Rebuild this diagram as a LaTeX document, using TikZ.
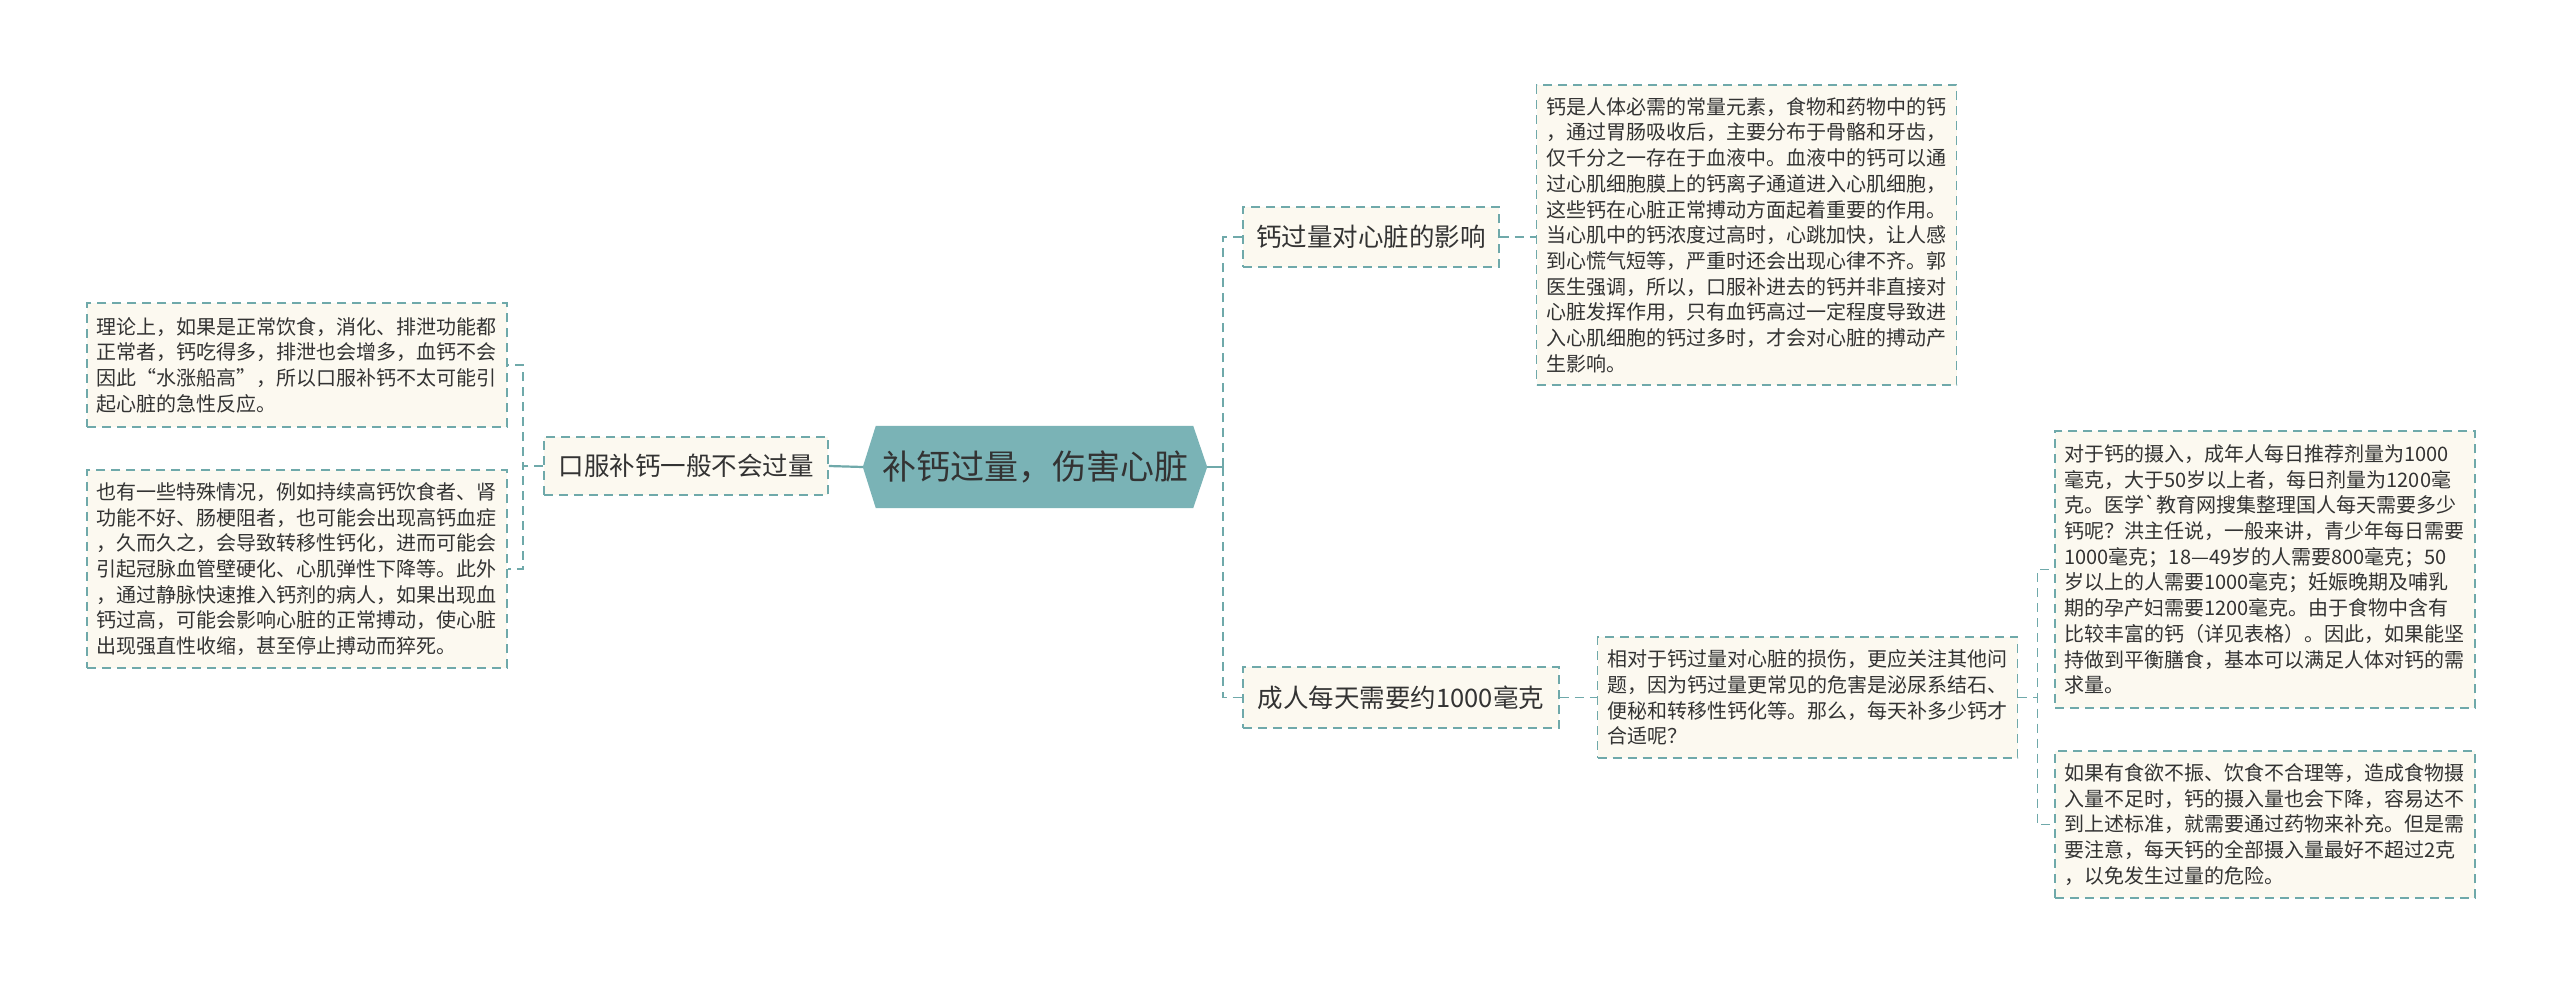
\documentclass[tikz,border=0pt]{standalone}
\usepackage{fontspec}
\setmainfont{Noto Sans CJK SC}
\usetikzlibrary{calc,backgrounds}
\definecolor{linec}{HTML}{6FA9AA}
\definecolor{hexfill}{HTML}{7AB3B6}
\definecolor{leafbg}{HTML}{FCF9F0}
\definecolor{txt}{HTML}{333333}
\begin{document}
\begin{tikzpicture}[x=1pt,y=-1pt,
  box/.style={draw=linec, fill=leafbg, line width=1.6pt, dash pattern=on 9pt off 6pt, text=txt, inner sep=0pt, anchor=center},
  leaf/.style={box, font=\fontsize{20}{25.7}\selectfont, align=left, text width=401pt, minimum width=420pt},
  sub/.style={box, font=\fontsize{25.5}{30}\selectfont},
  conn/.style={draw=linec, line width=1.6pt, dash pattern=on 9pt off 6pt},
  solidconn/.style={draw=linec, line width=2.2pt}]
\useasboundingbox (0,0) rectangle (2560,985);

\node[minimum width=344pt, minimum height=82pt, inner sep=0pt, font=\fontsize{34}{40}\selectfont, text=txt] (hex) at (1035,467) {补钙过量，伤害心脏};

\node[sub, minimum width=284pt, minimum height=58pt] (lc) at (686,466) {口服补钙一般不会过量};
\node[leaf, minimum height=124pt] (l1) at (297,365) {理论上，如果是正常饮食，消化、排泄功能都\\正常者，钙吃得多，排泄也会增多，血钙不会\\因此“水涨船高”，所以口服补钙不太可能引\\起心脏的急性反应。};
\node[leaf, minimum height=198pt] (l2) at (297,569) {也有一些特殊情况，例如持续高钙饮食者、肾\\功能不好、肠梗阻者，也可能会出现高钙血症\\，久而久之，会导致转移性钙化，进而可能会\\引起冠脉血管壁硬化、心肌弹性下降等。此外\\，通过静脉快速推入钙剂的病人，如果出现血\\钙过高，可能会影响心脏的正常搏动，使心脏\\出现强直性收缩，甚至停止搏动而猝死。};

\node[sub, minimum width=256pt, minimum height=60pt] (rc1) at (1371,237) {钙过量对心脏的影响};
\node[leaf, minimum height=300pt] (rl1) at (1746.5,235) {钙是人体必需的常量元素，食物和药物中的钙\\，通过胃肠吸收后，主要分布于骨骼和牙齿，\\仅千分之一存在于血液中。血液中的钙可以通\\过心肌细胞膜上的钙离子通道进入心肌细胞，\\这些钙在心脏正常搏动方面起着重要的作用。\\当心肌中的钙浓度过高时，心跳加快，让人感\\到心慌气短等，严重时还会出现心律不齐。郭\\医生强调，所以，口服补进去的钙并非直接对\\心脏发挥作用，只有血钙高过一定程度导致进\\入心肌细胞的钙过多时，才会对心脏的搏动产\\生影响。};

\node[sub, minimum width=316pt, minimum height=61pt] (rc2) at (1401,697.5) {成人每天需要约1000毫克};
\node[leaf, minimum height=121pt] (ml) at (1807.5,697.5) {相对于钙过量对心脏的损伤，更应关注其他问\\题，因为钙过量更常见的危害是泌尿系结石、\\便秘和转移性钙化等。那么，每天补多少钙才\\合适呢？};
\node[leaf, minimum height=277pt] (rl2) at (2265,569.5) {对于钙的摄入，成年人每日推荐剂量为1000\\毫克，大于50岁以上者，每日剂量为1200毫\\克。医学\textasciigrave 教育网搜集整理国人每天需要多少\\钙呢？洪主任说，一般来讲，青少年每日需要\\1000毫克；18—49岁的人需要800毫克；50\\岁以上的人需要1000毫克；妊娠晚期及哺乳\\期的孕产妇需要1200毫克。由于食物中含有\\比较丰富的钙（详见表格）。因此，如果能坚\\持做到平衡膳食，基本可以满足人体对钙的需\\求量。};
\node[leaf, minimum height=147pt] (rl3) at (2265,824.5) {如果有食欲不振、饮食不合理等，造成食物摄\\入量不足时，钙的摄入量也会下降，容易达不\\到上述标准，就需要通过药物来补充。但是需\\要注意，每天钙的全部摄入量最好不超过2克\\，以免发生过量的危险。};

\begin{scope}[on background layer]
\fill[white] (0,0) rectangle (2560,985);
\fill[hexfill] (hex.west) -- ($(hex.north west)+(13,0)$) -- ($(hex.north east)+(-14,0)$) -- (hex.east) -- ($(hex.south east)+(-14,0)$) -- ($(hex.south west)+(13,0)$) -- cycle;
\end{scope}

\coordinate (jr) at (1223,467);
\draw[solidconn] (hex.west) -- (lc.east);
\draw[solidconn] (hex.east) -- (jr);
\draw[conn] (lc.west) -- ++(-20,0) |- (l1.east);
\draw[conn] (lc.west) -- ++(-20,0) |- (l2.east);
\draw[conn] (jr) |- (rc1.west);
\draw[conn] (jr) |- (rc2.west);
\draw[conn] (rc1.east) -- (rc1.east -| rl1.west);
\draw[conn] (rc2.east) -- (ml.west);
\draw[conn] (ml.east) -- ++(19,0) |- (rl2.west);
\draw[conn] (ml.east) -- ++(19,0) |- (rl3.west);
\end{tikzpicture}
\end{document}
